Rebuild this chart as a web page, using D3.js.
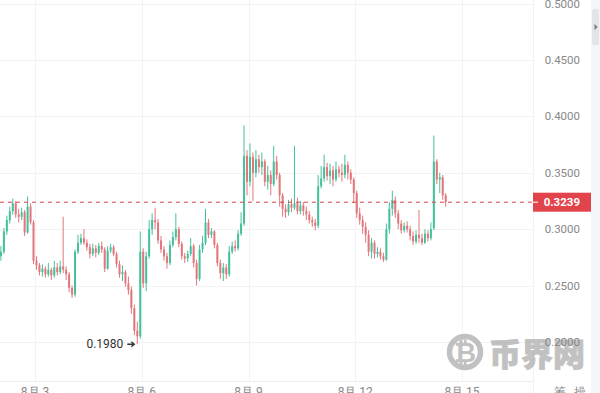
<!DOCTYPE html>
<html>
<head>
<meta charset="utf-8">
<script src="https://d3js.org/d3.v7.min.js"></script>
<style>
  body { margin: 0; background: #fff; }
  svg { display: block; font-family: Roboto, "Liberation Sans", Arial, sans-serif; }
</style>
</head>
<body>
<svg width="600" height="393"></svg>
<script>
// 2-hour candles, first one at 8月2 01:00
const startTime = new Date(2024, 7, 2, 1);
const stepHours = 2;

const opens = [
  .2760,.2800,.2980,.3080,.3160,.3230,.3130,.3110,.3150,.2970,
  .3200,.3060,.2720,.2680,.2620,.2650,.2600,.2640,.2590,.2660,
  .2620,.2670,.2640,.2600,.2480,.2420,.2800,.2880,.2920,.2880,
  .2840,.2780,.2830,.2790,.2850,.2820,.2650,.2810,.2840,.2780,
  .2690,.2600,.2620,.2520,.2460,.2300,.2100,.2050,.2800,.2520,
  .2760,.3000,.3080,.3060,.2900,.2820,.2760,.2700,.2860,.2930,
  .3000,.2870,.2760,.2740,.2780,.2850,.2700,.2560,.2820,.2880,
  .3060,.2950,.2980,.2860,.2700,.2610,.2660,.2600,.2800,.2850,
  .2830,.2960,.3050,.3650,.3420,.3640,.3500,.3620,.3550,.3600,
  .3420,.3480,.3400,.3600,.3480,.3300,.3180,.3150,.3220,.3190,
  .3230,.3160,.3210,.3160,.3130,.3080,.3060,.3030,.3380,.3450,
  .3550,.3470,.3520,.3440,.3530,.3500,.3480,.3570,.3500,.3440,
  .3320,.3140,.3080,.3020,.2950,.2800,.2880,.2780,.2800,.2760,
  .2730,.3000,.3180,.3260,.3140,.3050,.2990,.3030,.3000,.2940,
  .2890,.2950,.2920,.2880,.2960,.2920,.3010,.3600,.3440,.3460,
  .3300
];
const highs = [
  .2850,.3010,.3120,.3200,.3270,.3250,.3180,.3190,.3170,.3290,
  .3230,.3080,.2760,.2700,.2690,.2670,.2700,.2660,.2720,.2700,
  .2720,.3110,.2670,.2620,.2500,.2820,.2950,.2960,.3000,.2910,
  .2870,.2870,.2860,.2880,.2890,.2840,.2850,.2870,.2860,.2800,
  .2720,.2680,.2640,.2580,.2490,.2330,.2180,.2980,.2830,.2800,
  .3080,.3140,.3190,.3090,.2940,.2850,.2790,.2900,.2980,.3140,
  .3020,.2890,.2790,.2810,.2920,.2870,.2730,.2860,.2940,.3180,
  .3090,.3010,.2990,.2880,.2730,.2700,.2690,.2850,.2890,.2900,
  .2990,.3150,.3920,.3700,.3760,.3680,.3700,.3660,.3680,.3620,
  .3560,.3520,.3740,.3650,.3500,.3320,.3220,.3260,.3270,.3740,
  .3280,.3250,.3240,.3200,.3160,.3110,.3090,.3480,.3560,.3660,
  .3590,.3580,.3560,.3600,.3560,.3580,.3660,.3600,.3530,.3460,
  .3340,.3190,.3120,.3060,.2990,.2920,.2900,.2840,.2830,.2790,
  .3050,.3240,.3340,.3290,.3170,.3080,.3060,.3070,.3030,.2980,
  .2990,.3170,.2960,.3000,.2990,.3060,.3830,.3620,.3500,.3480,
  .3320
];
const lows = [
  .2720,.2780,.2950,.3050,.3130,.3100,.3060,.3080,.2940,.2960,
  .3040,.2690,.2640,.2590,.2580,.2570,.2580,.2550,.2570,.2590,
  .2600,.2610,.2550,.2440,.2390,.2400,.2780,.2860,.2860,.2810,
  .2740,.2760,.2750,.2770,.2790,.2620,.2640,.2790,.2760,.2660,
  .2570,.2540,.2490,.2420,.2250,.2060,.1980,.2030,.2480,.2450,
  .2740,.2950,.3000,.2870,.2790,.2720,.2650,.2680,.2840,.2900,
  .2840,.2730,.2700,.2710,.2760,.2660,.2500,.2540,.2790,.2860,
  .2920,.2920,.2830,.2670,.2560,.2540,.2560,.2580,.2780,.2800,
  .2810,.2940,.3030,.3300,.3380,.3250,.3460,.3500,.3480,.3380,
  .3350,.3300,.3380,.3440,.3200,.3110,.3100,.3120,.3150,.3170,
  .3130,.3130,.3120,.3080,.3050,.3020,.2990,.3010,.3360,.3420,
  .3430,.3400,.3380,.3420,.3460,.3420,.3450,.3440,.3400,.3230,
  .3100,.3040,.2960,.2880,.2760,.2740,.2740,.2750,.2730,.2710,
  .2720,.2960,.3120,.3100,.3000,.2960,.2970,.2970,.2900,.2860,
  .2870,.2880,.2860,.2870,.2890,.2900,.2990,.3400,.3320,.3260,
  .3200
];
const closes = [
  .2800,.2980,.3080,.3160,.3230,.3130,.3110,.3150,.2970,.3200,
  .3060,.2720,.2680,.2620,.2650,.2600,.2640,.2590,.2660,.2620,
  .2670,.2640,.2600,.2480,.2420,.2800,.2880,.2920,.2880,.2840,
  .2780,.2830,.2790,.2850,.2820,.2650,.2810,.2840,.2780,.2690,
  .2600,.2620,.2520,.2460,.2300,.2100,.2050,.2800,.2520,.2760,
  .3000,.3080,.3060,.2900,.2820,.2760,.2700,.2860,.2930,.3000,
  .2870,.2760,.2740,.2780,.2850,.2700,.2560,.2820,.2880,.3060,
  .2950,.2980,.2860,.2700,.2610,.2660,.2600,.2800,.2850,.2830,
  .2960,.3050,.3650,.3420,.3640,.3500,.3620,.3550,.3600,.3420,
  .3480,.3400,.3600,.3480,.3300,.3180,.3150,.3220,.3190,.3230,
  .3160,.3210,.3160,.3130,.3080,.3060,.3030,.3380,.3450,.3550,
  .3470,.3520,.3440,.3530,.3500,.3480,.3570,.3500,.3440,.3320,
  .3140,.3080,.3020,.2950,.2800,.2880,.2780,.2800,.2760,.2730,
  .3000,.3180,.3260,.3140,.3050,.2990,.3030,.3000,.2940,.2890,
  .2950,.2920,.2880,.2960,.2920,.3000,.3600,.3440,.3460,.3300,
  .3239
];

const priceTicks = [0.20, 0.25, 0.30, 0.35, 0.40, 0.45, 0.50];
const dateTicks = [3, 6, 9, 12, 15];
const dateLabels = ["8月 3", "8月 6", "8月 9", "8月 12", "8月 15"];
const lastPrice = 0.3239;
const lowPrice = 0.1980;

const upColor = "#45c09c", downColor = "#e3767a";
const plotRight = 533;

const svg = d3.select("svg");

const x = d3.scaleTime()
  .domain([new Date(2024, 7, 3), new Date(2024, 7, 15)])
  .range([35, 462]);
const y = d3.scaleLinear().domain([0.2, 0.5]).range([342, 3.5]);

const candles = closes.map((c, i) => ({
  t: d3.timeHour.offset(startTime, i * stepHours),
  o: opens[i], h: highs[i], l: lows[i], c: c
}));

// grid
svg.append("g").selectAll("line").data(priceTicks).enter().append("line")
  .attr("x1", 0).attr("x2", plotRight)
  .attr("y1", d => Math.round(y(d)) + 0.5).attr("y2", d => Math.round(y(d)) + 0.5)
  .attr("stroke", "#f1f3f5");
svg.append("g").selectAll("line").data(dateTicks).enter().append("line")
  .attr("x1", d => Math.round(x(new Date(2024, 7, d))) + 0.5)
  .attr("x2", d => Math.round(x(new Date(2024, 7, d))) + 0.5)
  .attr("y1", 0).attr("y2", 381)
  .attr("stroke", "#f1f3f5");
svg.append("line").attr("x1", plotRight + 0.5).attr("x2", plotRight + 0.5)
  .attr("y1", 0).attr("y2", 393).attr("stroke", "#f0f2f4");
svg.append("line").attr("x1", 0).attr("x2", plotRight)
  .attr("y1", 381.5).attr("y2", 381.5).attr("stroke", "#eceff2");

// watermark
const wm = svg.append("g").attr("opacity", 0.6);
wm.append("circle").attr("cx", 465).attr("cy", 352).attr("r", 15.5)
  .attr("fill", "none").attr("stroke", "#999").attr("stroke-width", 5.5);
wm.append("text").attr("x", 465).attr("y", 362).attr("text-anchor", "middle")
  .style("font-size", "27px").style("font-weight", "bold").attr("fill", "#999").text("₿");
wm.append("text").attr("x", 489).attr("y", 366)
  .style("font-size", "32px").style("font-weight", "900")
  .style("font-family", "'Noto Sans CJK SC', sans-serif")
  .attr("fill", "#999").attr("stroke", "#999").attr("stroke-width", 0.8)
  .text("币界网");

// candles
const cg = svg.append("g");
candles.forEach(d => {
  const cx = x(d.t);
  const col = d.c >= d.o ? upColor : downColor;
  cg.append("line")
    .attr("x1", cx).attr("x2", cx)
    .attr("y1", y(d.h)).attr("y2", y(d.l))
    .attr("stroke", col).attr("stroke-width", 1);
  const top = y(Math.max(d.o, d.c)), bot = y(Math.min(d.o, d.c));
  cg.append("rect")
    .attr("x", cx - 1).attr("width", 2)
    .attr("y", top).attr("height", Math.max(1, bot - top))
    .attr("fill", col);
});

// last price line
svg.append("line")
  .attr("x1", 0).attr("x2", plotRight)
  .attr("y1", y(lastPrice)).attr("y2", y(lastPrice))
  .attr("stroke", "#d8434b").attr("stroke-width", 1)
  .attr("stroke-dasharray", "4 4");

// low annotation
const lowIdx = lows.indexOf(lowPrice);
const lowX = x(candles[lowIdx].t);
svg.append("text")
  .attr("x", lowX - 14).attr("y", y(lowPrice) + 4)
  .attr("text-anchor", "end")
  .style("font-size", "12px").attr("fill", "#333")
  .text(d3.format(".4f")(lowPrice));
svg.append("path")
  .attr("d", `M${lowX - 10},${y(lowPrice)} H${lowX - 3} M${lowX - 6},${y(lowPrice) - 2.5} L${lowX - 3},${y(lowPrice)} L${lowX - 6},${y(lowPrice) + 2.5}`)
  .attr("fill", "none").attr("stroke", "#333").attr("stroke-width", 1.3);

// price axis
svg.append("g").selectAll("text").data(priceTicks).enter().append("text")
  .attr("x", 580).attr("y", d => y(d) + 4)
  .attr("text-anchor", "end")
  .style("font-size", "11.5px").attr("fill", "#888")
  .text(d => d3.format(".4f")(d));

// last price tag
svg.append("rect").attr("x", plotRight).attr("y", y(lastPrice) - 9.5)
  .attr("width", 58).attr("height", 19).attr("fill", "#e2444c");
svg.append("line").attr("x1", plotRight).attr("x2", plotRight + 5)
  .attr("y1", y(lastPrice)).attr("y2", y(lastPrice))
  .attr("stroke", "#fff");
svg.append("text").attr("x", 580).attr("y", y(lastPrice) + 4)
  .attr("text-anchor", "end")
  .style("font-size", "11.5px").style("font-weight", "bold").attr("fill", "#fff")
  .text(d3.format(".4f")(lastPrice));

// date axis
svg.append("g").selectAll("text").data(dateTicks).enter().append("text")
  .attr("x", (d, i) => x(new Date(2024, 7, d)))
  .attr("y", 396)
  .attr("text-anchor", "middle")
  .style("font-size", "12px").attr("fill", "#888")
  .text((d, i) => dateLabels[i]);
svg.append("text").attr("x", 560).attr("y", 396).attr("text-anchor", "middle")
  .style("font-size", "12px").attr("fill", "#888").text("筹");
svg.append("text").attr("x", 580).attr("y", 396).attr("text-anchor", "middle")
  .style("font-size", "12px").attr("fill", "#888").text("操");

// scrollbar strip
svg.append("rect").attr("x", 591).attr("y", 0).attr("width", 9).attr("height", 393)
  .attr("fill", "#f4f5f6");
svg.append("rect").attr("x", 592).attr("y", 9).attr("width", 7).attr("height", 36)
  .attr("rx", 2).attr("fill", "#e3e4e6");
svg.append("path").attr("d", "M594.5,24 L597.5,27 L594.5,30 Z").attr("fill", "#777");
</script>
</body>
</html>
